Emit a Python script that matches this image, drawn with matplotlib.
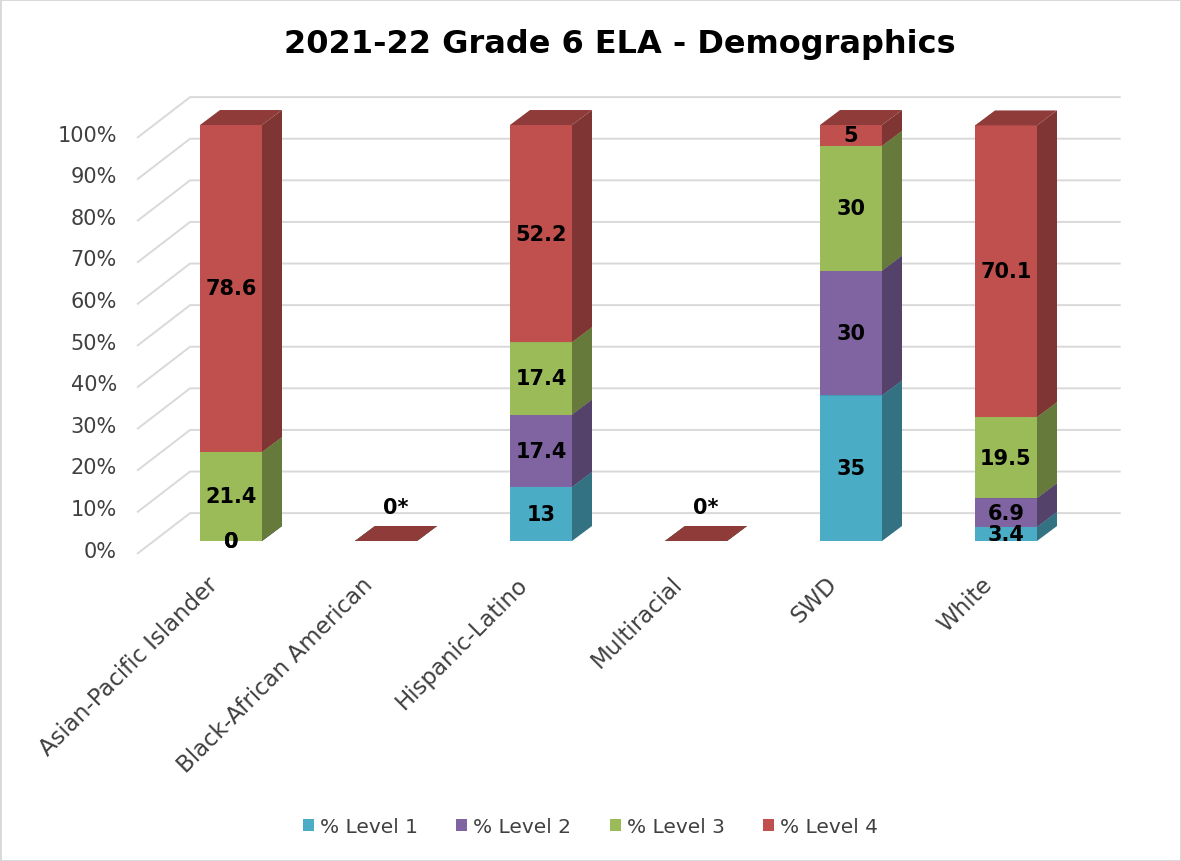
import matplotlib.pyplot as plt
import matplotlib.colors as mcolors
from matplotlib.patches import Polygon, Patch

plt.rcParams['font.family'] = 'DejaVu Sans'

categories = ['Asian-Pacific Islander', 'Black-African American', 'Hispanic-Latino',
              'Multiracial', 'SWD', 'White']
level1 = [0, 0, 13, 0, 35, 3.4]
level2 = [0, 0, 17.4, 0, 30, 6.9]
level3 = [21.4, 0, 17.4, 0, 30, 19.5]
level4 = [78.6, 0, 52.2, 0, 5, 70.1]
# groups too small to report -> shown as 0*
suppressed = [False, True, False, True, False, False]
series_names = ['% Level 1', '% Level 2', '% Level 3', '% Level 4']
yticks = list(range(0, 101, 10))

series = [level1, level2, level3, level4]
colors = ['#4bacc6', '#8064a2', '#9bbb59', '#c0504d']

# 3d look: bar depth, floor front edge and back wall offsets (data units)
bar_w = 0.4
dx, dy = 0.129, 3.6
fx, fy = -0.110, -3.1
wx, wy = 0.232, 6.7
floor_left = -0.606
wall_right = 5.74
grid_c = '#d9d9d9'
text_c = '#404040'


def shade(c, f):
    r, g, b = mcolors.to_rgb(c)
    return (r * f, g * f, b * f)


fig = plt.figure(figsize=(11.81, 8.62), dpi=100)
fig.patch.set_edgecolor('#d9d9d9')
fig.patch.set_linewidth(2)

ax = fig.add_axes([20 / 1181, 1 - 600 / 862, 1140 / 1181, 540 / 862])
ax.set_xlim((20 - 231) / 155, (1160 - 231) / 155)
ax.set_ylim((542 - 600) / 4.16, (542 - 60) / 4.16)
ax.axis('off')

# gridlines: diagonal on the left side wall, then across the back wall
for t in yticks:
    x_front = floor_left
    x_back = floor_left + (wx - fx)
    ax.plot([x_front, x_back, wall_right], [t + fy, t + wy, t + wy],
            color=grid_c, lw=1.4, zorder=1, solid_capstyle='butt')
    ax.text(x_front - 0.13, t - 2.3, f'{t}%', ha='right', va='center',
            fontsize=15, color=text_c)

# stacked 3d bars
for i, cat in enumerate(categories):
    x0, x1 = i - bar_w / 2, i + bar_w / 2
    bottom = 0
    for k, vals in enumerate(series):
        h = vals[i]
        top = bottom + h
        c = colors[k]
        front = Polygon([(x0, bottom), (x1, bottom), (x1, top), (x0, top)],
                        closed=True, fc=c, ec='none', zorder=3)
        side = Polygon([(x1, bottom), (x1 + dx, bottom + dy), (x1 + dx, top + dy), (x1, top)],
                       closed=True, fc=shade(c, 0.66), ec='none', zorder=3)
        cap = Polygon([(x0, top), (x1, top), (x1 + dx, top + dy), (x0 + dx, top + dy)],
                      closed=True, fc=shade(c, 0.74), ec='none', zorder=3)
        ax.add_patch(front)
        ax.add_patch(side)
        ax.add_patch(cap)
        if suppressed[i]:
            if k == len(series) - 1:
                ax.text(i + dx / 2, top + 8.2, '0*', ha='center', va='center',
                        fontsize=15, fontweight='bold', color='black', zorder=5)
        else:
            ax.text(i, bottom + h / 2, f'{h:g}', ha='center', va='center',
                    fontsize=15, fontweight='bold', color='black', zorder=5)
        bottom = top

    ax.text(i - 0.11, -9.4, cat, rotation=45, rotation_mode='anchor',
            ha='right', va='center', fontsize=16.5, color=text_c)

fig.text(0.525, 1 - 44 / 862, '2021-22 Grade 6 ELA - Demographics',
         ha='center', va='center', fontsize=23, fontweight='bold', color='black')

handles = [Patch(fc=c, ec='none') for c in colors]
fig.legend(handles, series_names, loc='center', bbox_to_anchor=(0.5, 1 - 828 / 862),
           ncol=4, frameon=False, fontsize=14.5, handlelength=0.55, handleheight=0.55,
           handletextpad=0.3, columnspacing=1.9, labelcolor=text_c)

fig.savefig('out.png', dpi=100)
